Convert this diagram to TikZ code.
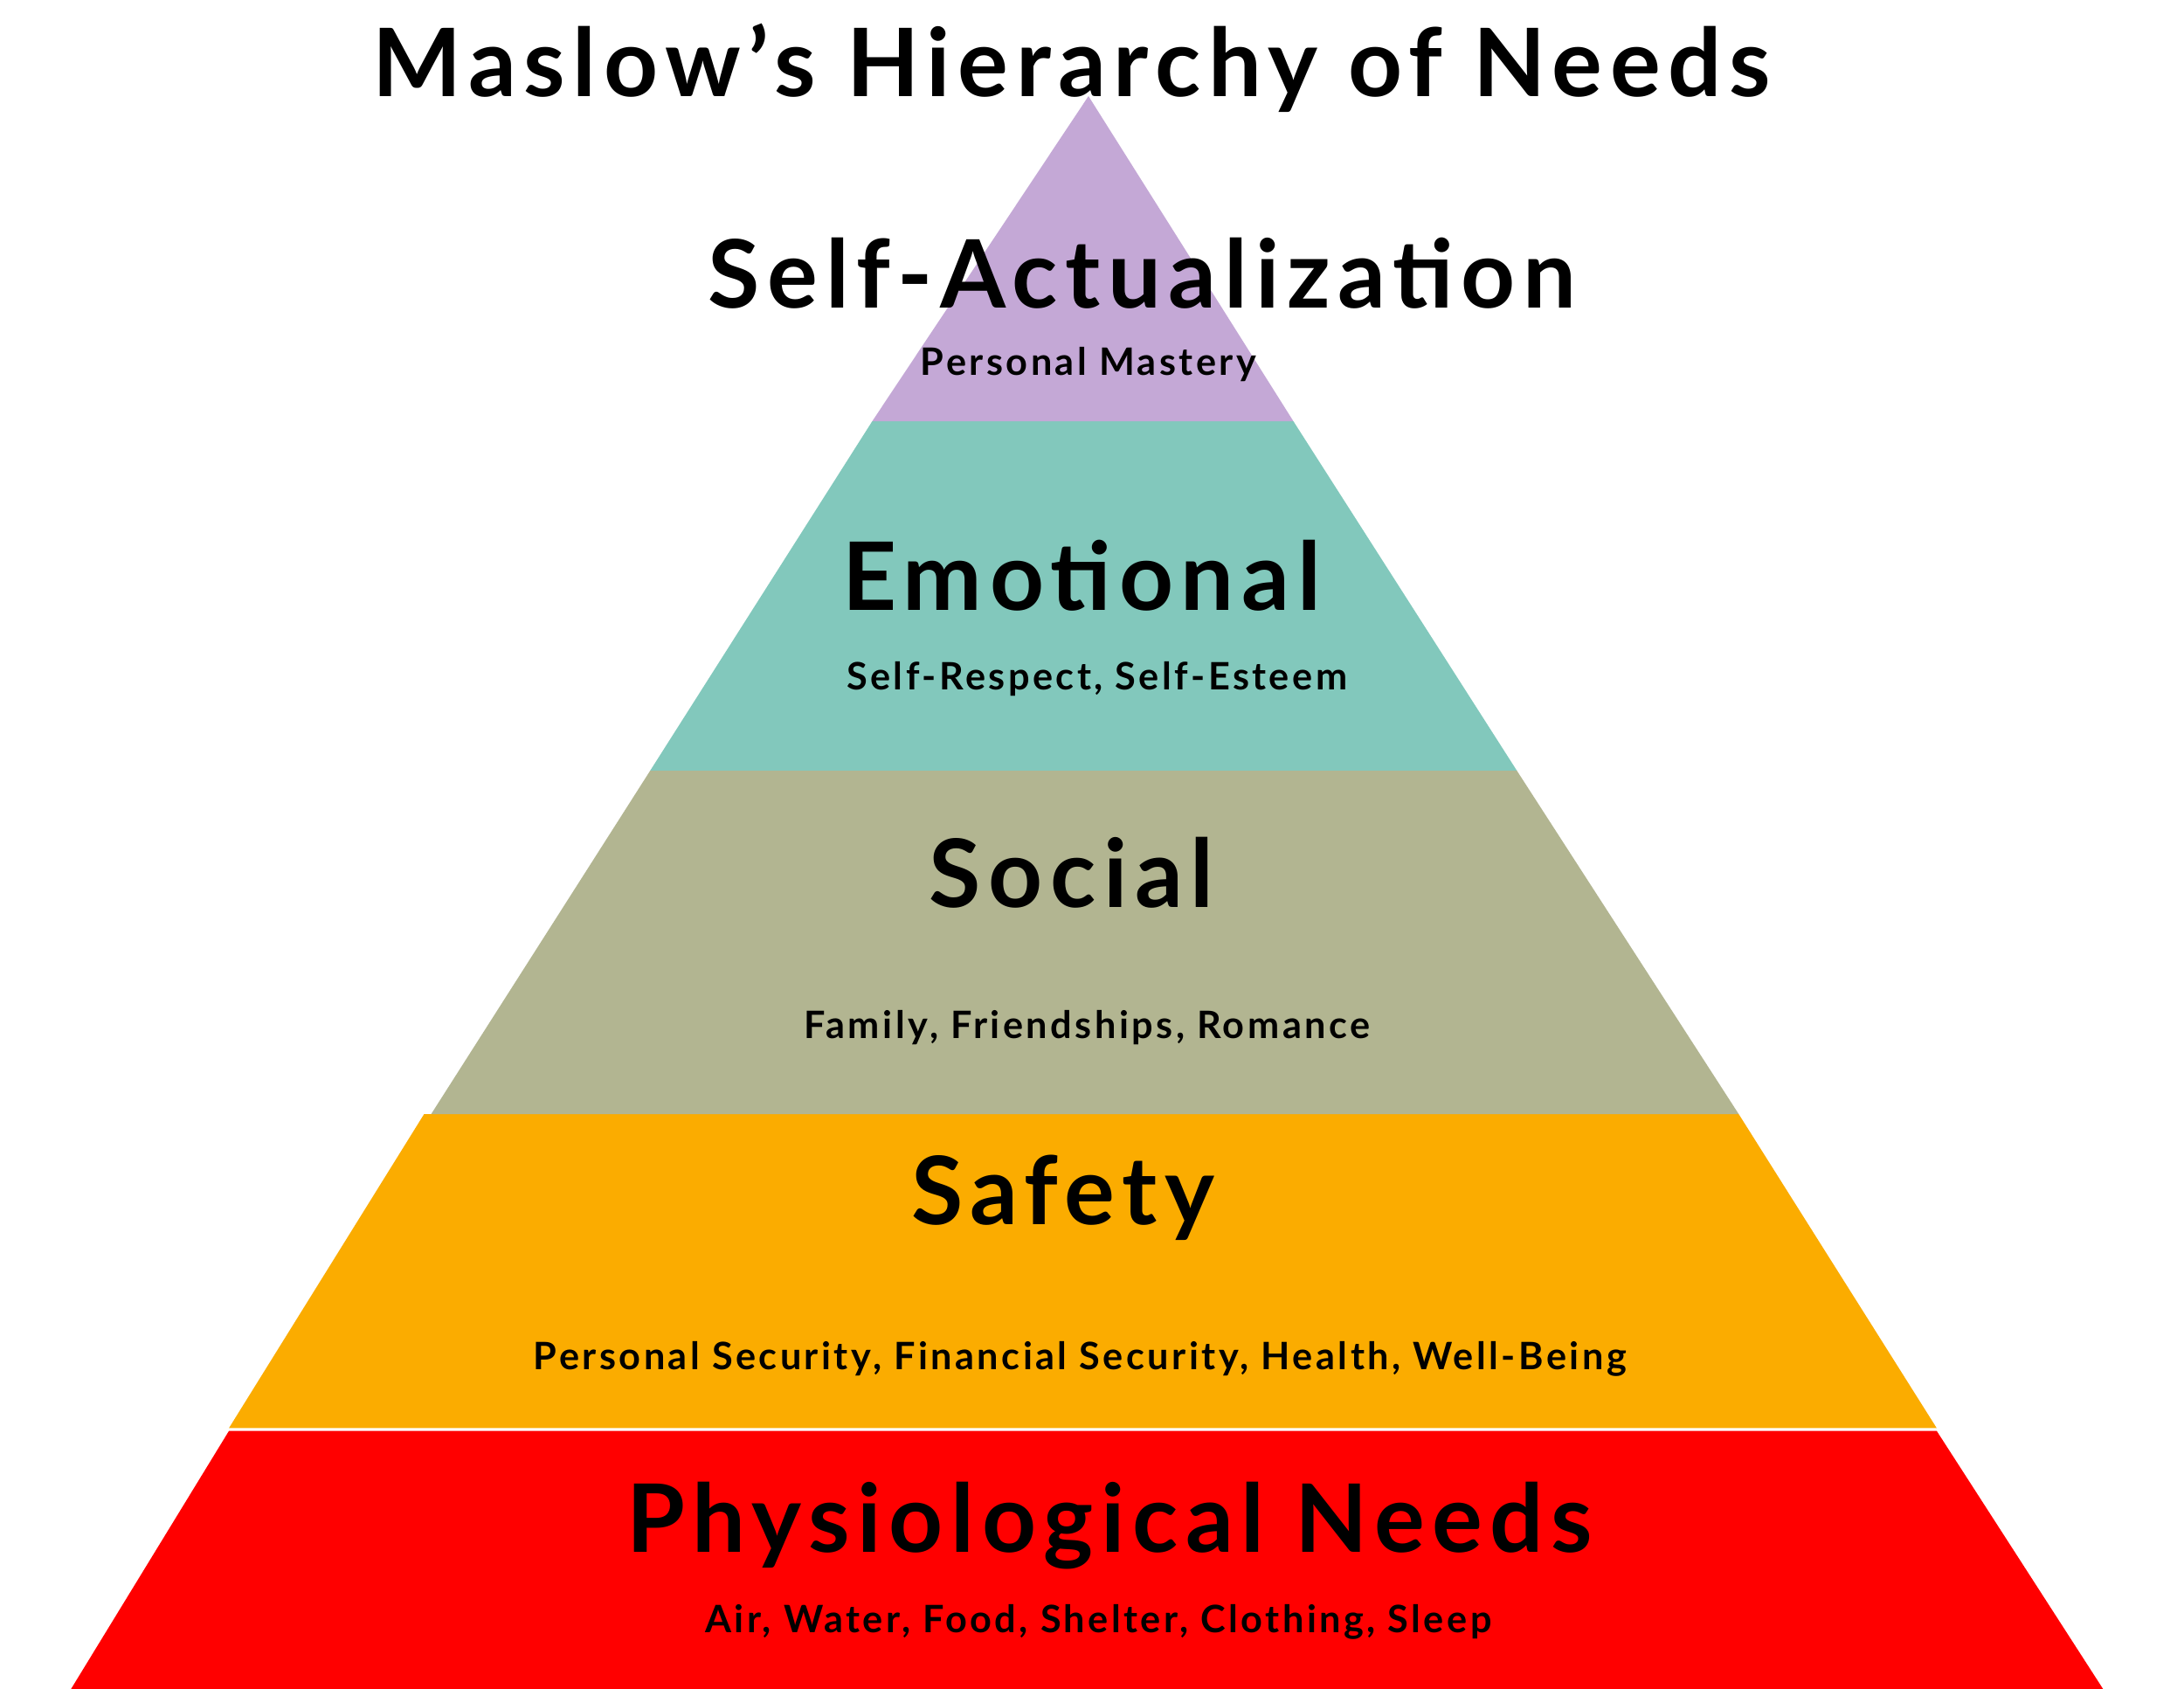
\documentclass[tikz,border=0pt]{standalone}
\usepackage{fontspec}
\setmainfont{Lato}[LetterSpace=8]
\begin{document}
\begin{tikzpicture}[x=0.01cm,y=-0.01cm,
  big/.style={font=\fontsize{19}{22}\selectfont\bfseries, inner sep=0pt},
  small/.style={font=\fontsize{7.6}{9}\selectfont\bfseries, inner sep=0pt}]
\definecolor{cpur}{HTML}{C4A8D6}
\definecolor{cteal}{HTML}{82C8BC}
\definecolor{csoc}{HTML}{B2B591}
\definecolor{csaf}{HTML}{FBAC00}
\definecolor{cred}{HTML}{FF0000}
\useasboundingbox[fill=white] (0,0) rectangle (1545,1194);
\fill[cred] (162,1012) -- (1370,1012) -- (1488,1195) -- (50,1195) -- cycle;
\fill[csaf] (300,788) -- (1230,788) -- (1370,1010) -- (162,1010) -- cycle;
\fill[csoc] (460,545) -- (1073,545) -- (1230,788) -- (305,788) -- cycle;
\fill[cteal] (617,298) -- (915,298) -- (1073,545) -- (460,545) -- cycle;
\fill[cpur] (770,68) -- (915,298) -- (617,298) -- cycle;
\node[big] (title) at (758,48) {Maslow’s Hierarchy of Needs};
\node[big] (sa) at (808,193) {Self-Actualization};
\node[small] (sas) at (770,258) {Personal Mastery};
\node[big] (em) at (765,407) {Emotional};
\node[small] (ems) at (776,480) {Self-Respect, Self-Esteem};
\node[big] (so) at (758,617) {Social};
\node[small] (sos) at (769,727) {Family, Friendships, Romance};
\node[big] (sf) at (752,847) {Safety};
\node[small] (sfs) at (764,961) {Personal Security, Financial Security, Health, Well-Being};
\node[big] (ph) at (785,1079) {Physiological Needs};
\node[small] (phs) at (777,1147) {Air, Water, Food, Shelter, Clothing, Sleep};
\end{tikzpicture}
\end{document}
